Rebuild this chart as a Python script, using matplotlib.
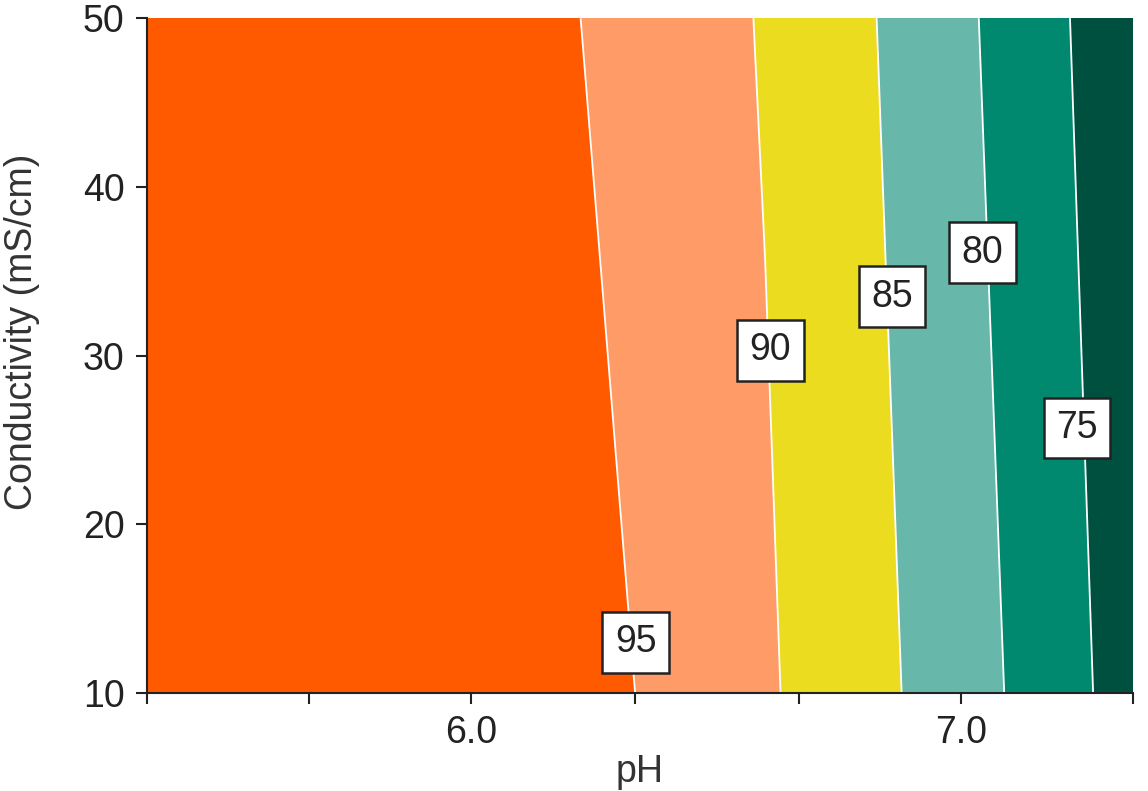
import matplotlib.pyplot as plt
import numpy as np

plt.rcParams['font.family'] = ['Liberation Sans', 'DejaVu Sans']

# data: yield (%) on a pH x conductivity grid
ph = [5.34, 6.0, 6.2, 6.4, 6.6, 6.8, 7.0, 7.2, 7.35]
conductivity = [10, 50]
yield_low_cond = [100.0, 99.0, 97.2, 93.94, 90.61, 86.73, 82.31, 77.02, 72.6]
yield_high_cond = [100.0, 98.0, 95.34, 92.5, 89.66, 85.64, 80.95, 75.6, 71.4]

levels = [70, 75, 80, 85, 90, 95, 100]
colors = ['#00503F', '#00896E', '#67B8AA', '#ECDC20', '#FF9B66', '#FF5A00']

# label positions (pH, conductivity) and text
label_pos = [(6.336, 13.0), (6.611, 30.3), (6.859, 33.5), (7.043, 36.1), (7.236, 25.7)]
label_txt = ['95', '90', '85', '80', '75']

xtick_pos = [5.34, 5.67, 6.0, 6.335, 6.67, 7.0, 7.35]
xtick_lbl = ['', '', '6.0', '', '', '7.0', '']

X, Y = np.meshgrid(ph, conductivity)
Z = np.array([yield_low_cond, yield_high_cond])

fig = plt.figure(figsize=(11.48, 7.91), dpi=100)
ax = fig.add_axes([0.128, 0.124, 0.859, 0.853])

ax.contourf(X, Y, Z, levels=levels, colors=colors)
ax.contour(X, Y, Z, levels=levels[1:-1], colors='white', linewidths=1.3)

for (x, y), t in zip(label_pos, label_txt):
    ax.text(x, y, t, fontsize=27, ha='center', va='center', color='#222222',
            bbox=dict(boxstyle='square,pad=0.33', fc='white', ec='#222222', lw=1.8))

ax.set_xlim(5.34, 7.35)
ax.set_ylim(10, 50)
ax.set_xticks(xtick_pos)
ax.set_xticklabels(xtick_lbl)
ax.set_yticks([10, 20, 30, 40, 50])

for s in ['top', 'right']:
    ax.spines[s].set_visible(False)
for s in ['left', 'bottom']:
    ax.spines[s].set_linewidth(1.5)
    ax.spines[s].set_color('#222222')
ax.tick_params(length=8, width=1.5, color='#222222', labelsize=27, labelcolor='#222222', pad=8)

ax.set_xlabel('pH', fontsize=27, color='#333333', labelpad=2)
ax.set_ylabel('Conductivity (mS/cm)', fontsize=27, color='#333333')
ax.yaxis.set_label_coords(-0.108, 0.535)

plt.savefig('out.png', dpi=100)
